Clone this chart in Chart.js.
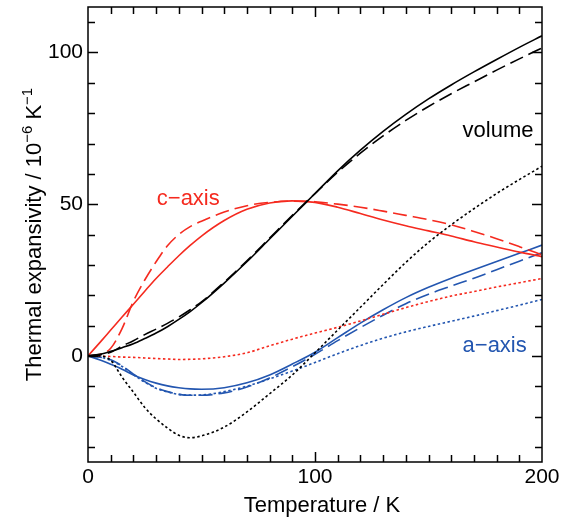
<!DOCTYPE html>
<html>
<head>
<meta charset="utf-8">
<script src="https://cdn.jsdelivr.net/npm/chart.js@4"></script>
<style>
  body { margin: 0; background: #fff; }
</style>
</head>
<body>
<canvas id="expansivity" width="570" height="523"></canvas>
<script>
const temps = [0, 5, 10, 15, 20, 25, 30, 35, 40, 45, 50, 60, 70, 80, 90, 100, 110, 120, 130, 140, 150, 160, 170, 180, 190, 200];

// volume (black)
const volSolid  = [0, 0.5, 1.5, 2.7, 4, 5.7, 7.5, 9.6, 12, 14.6, 17.5, 24, 31, 38.5, 46, 53.5, 61, 67.8, 74, 79.6, 84.7, 89.3, 93.6, 97.7, 101.7, 105.5];
const volDashed = [0, 0.3, 1.2, 3.2, 5, 7, 8.8, 10.7, 12.8, 15.2, 17.8, 24.3, 31.3, 38.8, 46.3, 53.5, 60.5, 66.8, 72.5, 77.6, 82.2, 86.4, 90.3, 94.2, 97.9, 101.5];
const volDotted = [0, 0, -1.5, -7, -12, -17, -20.8, -23.8, -26.2, -27, -26.4, -23.5, -18.5, -12.5, -6.3, 1, 8.5, 16, 23.5, 30.8, 37.4, 43.2, 48.5, 53.5, 58.1, 62.5];

// c-axis (red)
const cSolid  = [0, 4.2, 8.5, 12.8, 17, 21.3, 25.5, 29.3, 33, 36.4, 39.5, 44.6, 48.3, 50.4, 51.1, 50.6, 49, 46.9, 44.8, 42.9, 41.2, 39.5, 37.6, 35.9, 34.2, 32.7];
const cDashed = [0, 0.4, 2.5, 9, 18, 25, 31, 36.3, 40, 42.6, 44.4, 47.4, 49.5, 50.6, 51, 50.8, 50, 49, 47.7, 46.3, 44.9, 43.2, 41, 38.6, 36, 33.3];
const cDotted = [0, -0.1, -0.2, -0.4, -0.5, -0.7, -0.9, -1.05, -1.2, -1.15, -1, -0.3, 1, 3.3, 5.5, 7.5, 9.4, 11.5, 13.7, 15.9, 17.9, 19.7, 21.2, 22.7, 24.1, 25.5];

// a-axis (blue)
const aSolid  = [0, -1.3, -2.8, -4.4, -6.3, -7.8, -9, -9.9, -10.5, -10.9, -11, -10.5, -8.9, -6.3, -2.7, 1.2, 6, 10.8, 15.2, 19.2, 22.6, 25.6, 28.4, 31.1, 33.8, 36.5];
const aDashed = [0, -0.4, -1.3, -3.3, -6, -8.5, -10.5, -11.8, -12.7, -13, -13, -12.2, -10.3, -7.3, -3.6, 0.5, 5, 9.3, 13.4, 17.2, 20.3, 23, 25.6, 28.4, 31.2, 34];
const aDotted = [0, -0.4, -1.5, -3.5, -6.2, -8.7, -10.7, -11.9, -12.7, -12.95, -12.9, -11.8, -10, -7.6, -5, -2.2, 0.7, 3.4, 5.8, 7.9, 9.7, 11.4, 13.1, 14.9, 16.7, 18.6];

const xTickValues = [0, 100, 200];
const yTickValues = [0, 50, 100];

const curveLabels = [
  { text: 'c\u2212axis', x: 30.3, y: 49.7, color: '#f52a1f' },
  { text: 'volume', x: 165, y: 72, color: '#000' },
  { text: 'a\u2212axis', x: 165, y: 1.2, color: '#2356b0' }
];

const RED = '#f52a1f';
const BLUE = '#2356b0';
const BLACK = '#000';
const FONT = '"Liberation Sans", Arial, Helvetica, sans-serif';
const DASH = [14, 6];
const DOT = [2.5, 2.5];

function series(values, color, dash) {
  return {
    data: temps.map((t, i) => ({ x: t, y: values[i] })),
    borderColor: color,
    borderWidth: 1.6,
    borderDash: dash,
    pointRadius: 0,
    cubicInterpolationMode: 'monotone',
    fill: false
  };
}

const frameAndText = {
  id: 'frameAndText',
  afterDraw(chart) {
    const ctx = chart.ctx;
    const a = chart.chartArea;
    const xs = chart.scales.x, ys = chart.scales.y;
    ctx.save();
    ctx.strokeStyle = '#000';
    ctx.lineWidth = 1.5;
    ctx.strokeRect(a.left, a.top, a.right - a.left, a.bottom - a.top);

    // inside ticks
    ctx.beginPath();
    for (let v = 10; v < 200; v += 10) {
      const px = Math.round(xs.getPixelForValue(v)) + 0.5;
      const len = v % 100 === 0 ? 10 : 7;
      ctx.moveTo(px, a.bottom); ctx.lineTo(px, a.bottom - len);
      ctx.moveTo(px, a.top); ctx.lineTo(px, a.top + len);
    }
    for (let v = -30; v <= 110; v += 10) {
      const py = Math.round(ys.getPixelForValue(v)) + 0.5;
      const len = v % 50 === 0 ? 10 : 7;
      ctx.moveTo(a.left, py); ctx.lineTo(a.left + len, py);
      ctx.moveTo(a.right, py); ctx.lineTo(a.right - len, py);
    }
    ctx.stroke();

    // curve labels
    ctx.font = '22px ' + FONT;
    ctx.textBaseline = 'alphabetic';
    ctx.textAlign = 'left';
    curveLabels.forEach(l => {
      ctx.fillStyle = l.color;
      ctx.fillText(l.text, xs.getPixelForValue(l.x), ys.getPixelForValue(l.y));
    });

    // x title
    ctx.fillStyle = '#000';
    ctx.textAlign = 'center';
    ctx.fillText('Temperature / K', (a.left + a.right) / 2 + 7, 512);

    // y title with superscripts
    const parts = [
      { t: 'Thermal expansivity / 10', s: 22, dy: 0 },
      { t: '\u22126', s: 15, dy: -9 },
      { t: ' K', s: 22, dy: 0 },
      { t: '\u22121', s: 15, dy: -9 }
    ];
    let total = 0;
    parts.forEach(p => { ctx.font = p.s + 'px ' + FONT; p.w = ctx.measureText(p.t).width; total += p.w; });
    ctx.translate(41, (a.top + a.bottom) / 2);
    ctx.rotate(-Math.PI / 2);
    ctx.textAlign = 'left';
    let cx = -total / 2;
    parts.forEach(p => {
      ctx.font = p.s + 'px ' + FONT;
      ctx.fillText(p.t, cx, p.dy);
      cx += p.w;
    });
    ctx.restore();
  }
};

const ctx = document.getElementById('expansivity').getContext('2d');
const chart = new Chart(ctx, {
  type: 'line',
  data: {
    datasets: [
      series(volSolid, BLACK, []),
      series(volDashed, BLACK, DASH),
      series(volDotted, BLACK, DOT),
      series(cSolid, RED, []),
      series(cDashed, RED, DASH),
      series(cDotted, RED, DOT),
      series(aSolid, BLUE, []),
      series(aDashed, BLUE, DASH),
      series(aDotted, BLUE, DOT)
    ]
  },
  options: {
    responsive: false,
    animation: false,
    devicePixelRatio: 1,
    layout: { padding: { top: 7, right: 28, left: 0, bottom: 0 } },
    plugins: { legend: { display: false }, tooltip: { enabled: false } },
    scales: {
      x: {
        type: 'linear', min: 0, max: 200,
        grid: { display: false, drawTicks: false },
        border: { display: false },
        ticks: { padding: 3, color: '#000', maxRotation: 0, font: { size: 21, family: FONT } },
        afterBuildTicks: s => { s.ticks = xTickValues.map(v => ({ value: v })); },
        afterFit: s => { s.height = 61; s.paddingLeft = 0; s.paddingRight = 0; }
      },
      y: {
        type: 'linear', min: -35, max: 115,
        grid: { display: false, drawTicks: false },
        border: { display: false },
        ticks: { padding: 5, color: '#000', font: { size: 21, family: FONT } },
        afterBuildTicks: s => { s.ticks = yTickValues.map(v => ({ value: v })); },
        afterFit: s => { s.width = 88; s.paddingTop = 0; s.paddingBottom = 0; }
      }
    }
  },
  plugins: [frameAndText]
});
</script>
</body>
</html>
